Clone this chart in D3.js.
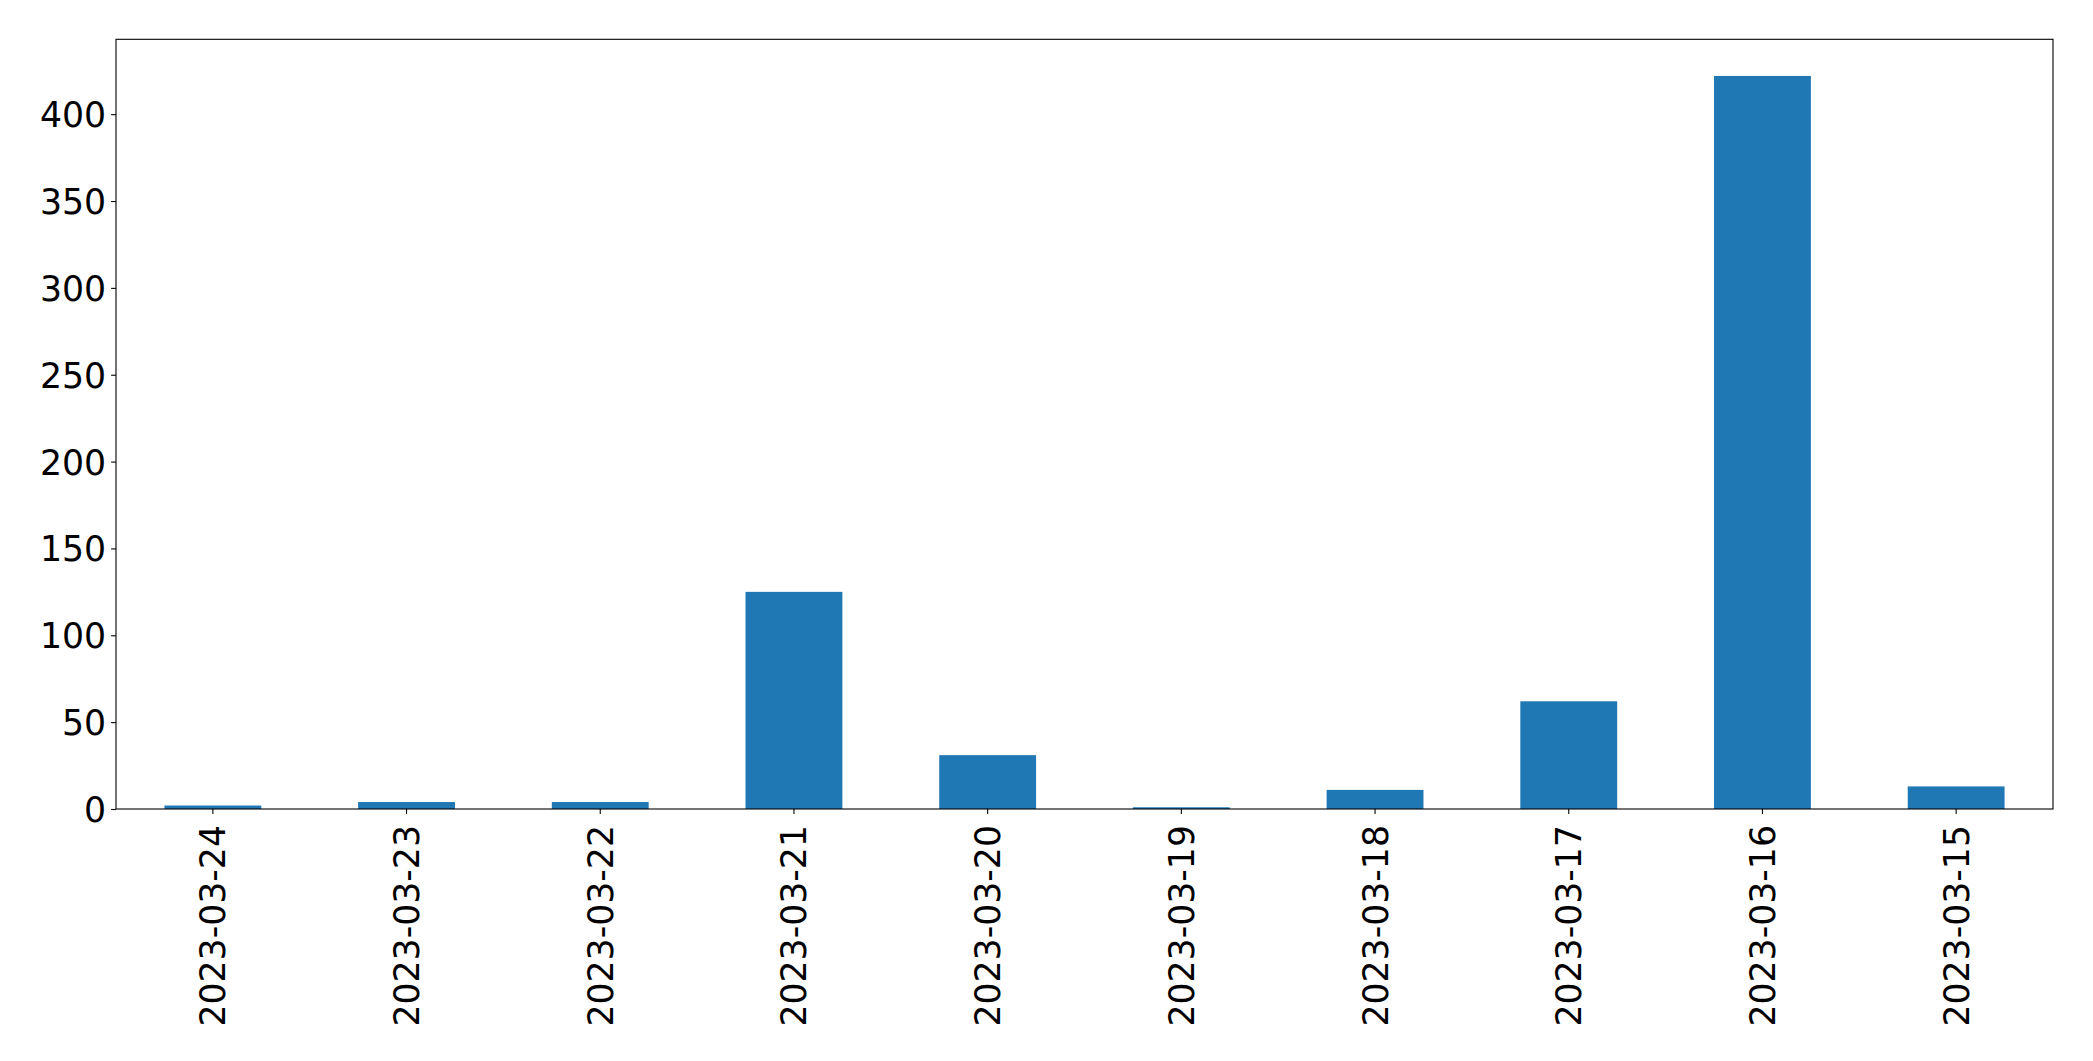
<!DOCTYPE html>
<html>
<head>
<meta charset="utf-8">
<script src="https://cdn.jsdelivr.net/npm/d3@7"></script>
<style>
  html, body { margin: 0; padding: 0; background: #fff; }
  svg { display: block; }
  text { font-family: "DejaVu Sans", sans-serif; }
</style>
</head>
<body>
<svg id="chart" width="2093" height="1061"></svg>
<script>
const categories = ["2023-03-24","2023-03-23","2023-03-22","2023-03-21","2023-03-20","2023-03-19","2023-03-18","2023-03-17","2023-03-16","2023-03-15"];
const values = [2, 4, 4, 125, 31, 1, 11, 62, 422, 13];
const yTicks = [0, 50, 100, 150, 200, 250, 300, 350, 400];

const W = 2093, H = 1061;
const margin = {left: 116, right: W - 2053, top: 39.3, bottom: H - 809};
const svg = d3.select("#chart");
const g = svg.append("g").attr("transform", `translate(${margin.left},${margin.top})`);
const iw = W - margin.left - margin.right, ih = H - margin.top - margin.bottom;

const x = d3.scaleBand().domain(categories).range([0, iw]).paddingInner(0.5).paddingOuter(0.25);
const y = d3.scaleLinear().domain([0, d3.max(values) * 1.05]).range([ih, 0]);

g.selectAll("rect.bar").data(values).enter().append("rect")
  .attr("class", "bar")
  .attr("x", (d, i) => x(categories[i]))
  .attr("width", x.bandwidth())
  .attr("y", d => y(d))
  .attr("height", d => y(0) - y(d))
  .attr("fill", "#1f77b4");

const fs = "34.7px";
const yAxis = g.append("g").call(d3.axisLeft(y).tickValues(yTicks).tickSize(4.9).tickPadding(5));
yAxis.select(".domain").remove();
yAxis.selectAll("text").style("font-size", fs).attr("fill", "#000").attr("font-family", "DejaVu Sans").attr("dy", "0.36em");
yAxis.selectAll("line").attr("stroke", "#000").attr("stroke-width", 1.1);

const xAxis = g.append("g").attr("transform", `translate(0,${ih})`)
  .call(d3.axisBottom(x).tickSize(4.9).tickPadding(7));
xAxis.select(".domain").remove();
xAxis.selectAll("line").attr("stroke", "#000").attr("stroke-width", 1.1);
xAxis.selectAll("text")
  .style("font-size", fs).attr("fill", "#000").attr("font-family", "DejaVu Sans")
  .attr("transform", "rotate(-90)")
  .attr("text-anchor", "end")
  .attr("x", -16)
  .attr("y", 0)
  .attr("dy", "0.36em");

g.append("rect").attr("x", 0).attr("y", 0).attr("width", iw).attr("height", ih)
  .attr("fill", "none").attr("stroke", "#000").attr("stroke-width", 1.1);
</script>
</body>
</html>
